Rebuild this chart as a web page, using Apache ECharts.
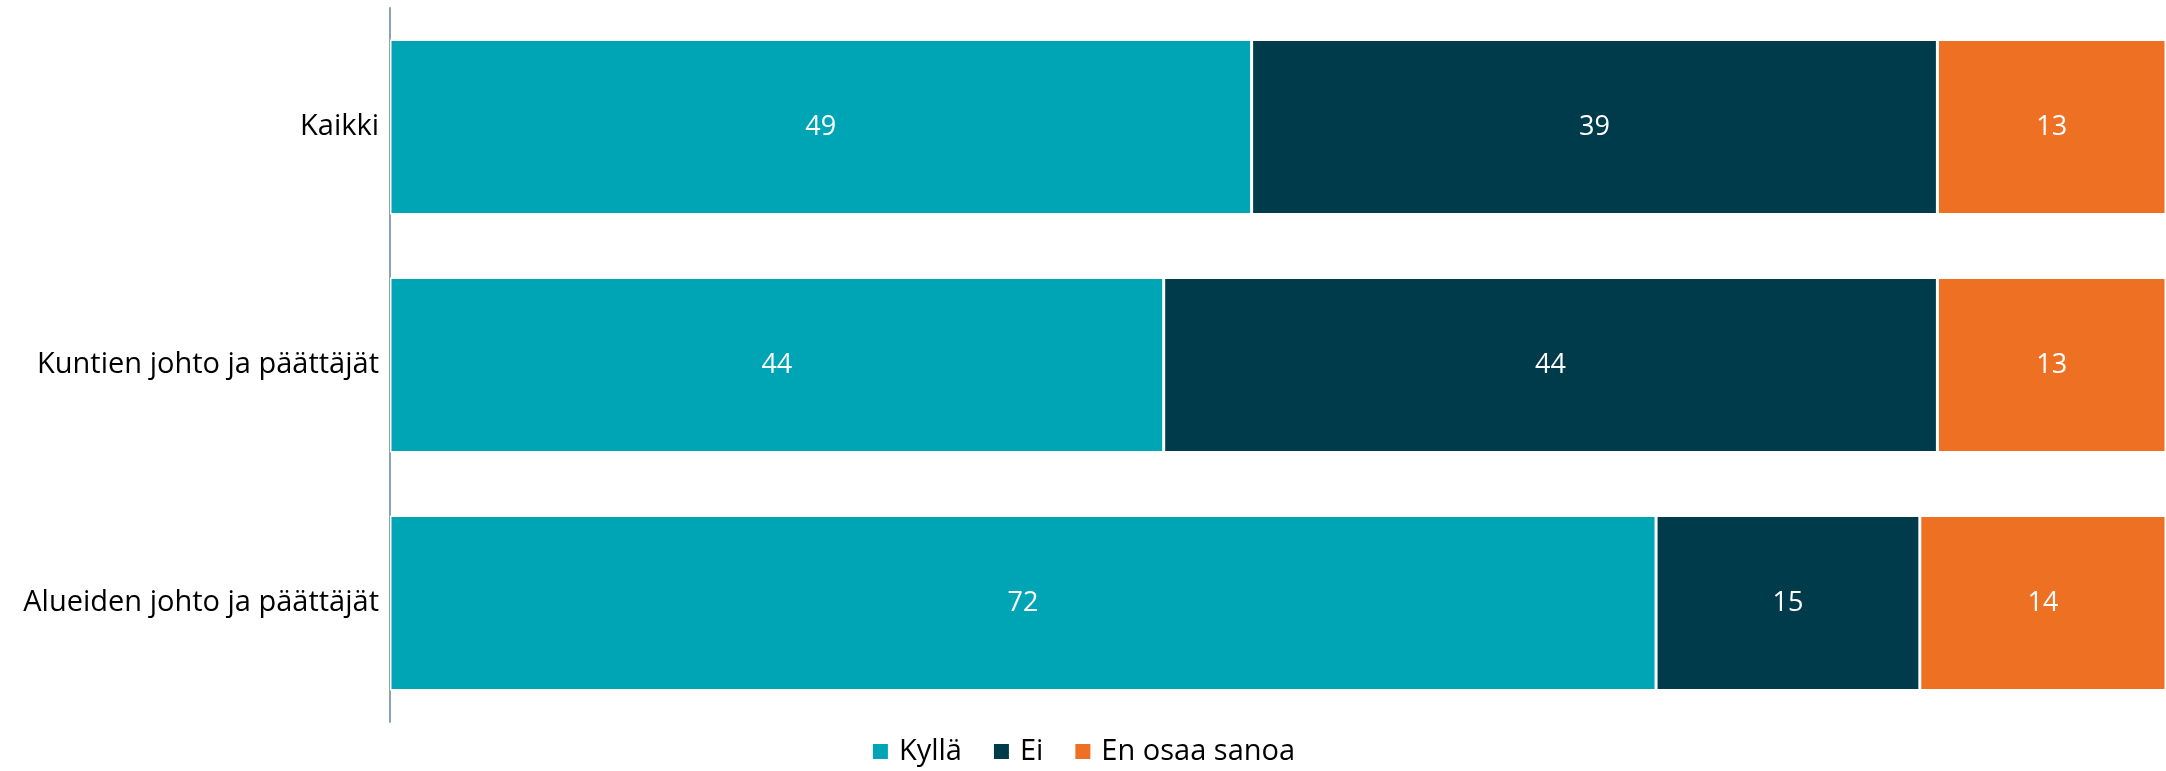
<!DOCTYPE html>
<html>
<head>
<meta charset="utf-8">
<script src="https://cdn.jsdelivr.net/npm/echarts@6/dist/echarts.min.js"></script>
<style>
  html, body { margin: 0; padding: 0; background: #fff; }
  #chart { width: 2166px; height: 771px; }
</style>
</head>
<body>
<div id="chart"></div>
<script>
const categories = ["Kaikki", "Kuntien johto ja päättäjät", "Alueiden johto ja päättäjät"]
const kylla = [49, 44, 72]
const ei = [39, 44, 15]
const eos = [13, 13, 14]

const font = "'Open Sans', 'Noto Sans', sans-serif"

const makeSeries = (name, data, color) => ({
  name: name,
  type: "bar",
  stack: "total",
  data: data,
  barWidth: "73.5%",
  itemStyle: {
    color: color,
    borderColor: "#fff",
    borderWidth: 1.5,
  },
  label: {
    show: true,
    position: "inside",
    color: "#fff",
    fontSize: 27,
    fontFamily: font,
  },
})

const myE = echarts.init(document.getElementById("chart"))
let option = {
  animation: false,
  grid: {
    top: 8,
    left: 390,
    right: 0,
    bottom: 49,
  },
  legend: {
    bottom: 0,
    left: "center",
    itemWidth: 17,
    itemHeight: 17,
    itemGap: 30,
    icon: "rect",
    textStyle: {
      fontSize: 29,
      color: "#000",
      fontFamily: font,
      padding: [0, 0, 0, 5],
    },
  },
  xAxis: {
    type: "value",
    min: 0,
    max: 101,
    show: false,
  },
  yAxis: {
    type: "category",
    inverse: true,
    data: categories,
    axisTick: { show: false },
    axisLine: {
      show: true,
      lineStyle: { color: "#8BA5AE", width: 2 },
    },
    axisLabel: {
      margin: 11,
      fontSize: 29,
      color: "#000",
      fontFamily: font,
    },
  },
  series: [
    makeSeries("Kyllä", kylla, "#00A5B5"),
    makeSeries("Ei", ei, "#003B4C"),
    makeSeries("En osaa sanoa", eos, "#EE7023"),
  ],
}
myE.setOption(option)
</script>
</body>
</html>
